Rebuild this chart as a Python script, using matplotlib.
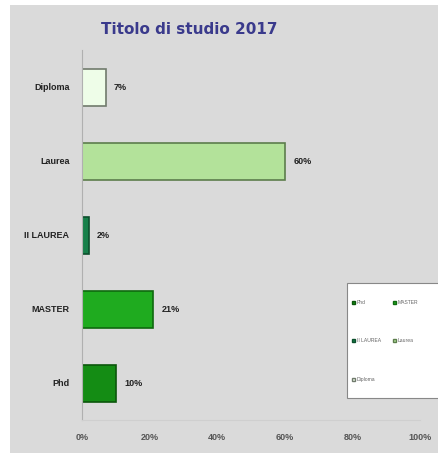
import matplotlib
matplotlib.use("Agg")
import matplotlib.pyplot as plt
from matplotlib.patches import Patch

categories = ["Phd", "MASTER", "II LAUREA", "Laurea", "Diploma"]
values = [10, 21, 2, 60, 7]
colors = ["#148c14", "#1fab1f", "#17804a", "#b3e29a", "#eefde8"]
edges = ["#0b560b", "#0f6a0f", "#0c4f2c", "#5c7d4c", "#707a6c"]
xticks = [0, 20, 40, 60, 80, 100]
xtick_labels = ["0%", "20%", "40%", "60%", "80%", "100%"]
title = "Titolo di studio 2017"

plt.rcParams['font.family'] = ['Liberation Sans', 'DejaVu Sans']

fig = plt.figure(figsize=(4.38, 4.53), dpi=100)
fig.patch.set_facecolor("white")
bg = plt.Rectangle((10/438, 0), 1, 1 - 5/453, transform=fig.transFigure,
                   facecolor="#dadada", edgecolor="none", zorder=-10)
fig.patches.append(bg)

ax = fig.add_axes([82/438, 1 - 420/453, (420 - 82)/438, 370/453])
ax.set_facecolor("#dadada")
ypos = list(range(len(categories)))
ax.barh(ypos, values, height=0.5, color=colors, edgecolor=edges, linewidth=1.2)
for y, v in zip(ypos, values):
    ax.text(v + 2.5, y, f"{v}%", va="center", ha="left", fontsize=6.5,
            fontweight="bold", color="#222222")

ax.set_xlim(0, 100)
ax.set_ylim(-0.5, len(categories) - 0.5)
ax.set_yticks(ypos)
ax.set_yticklabels(categories, fontsize=6.5, fontweight="bold", color="#222222")
ax.set_xticks(xticks)
ax.set_xticklabels(xtick_labels, fontsize=6.5, fontweight="bold", color="#555555")
ax.tick_params(axis="both", length=0, pad=9)
ax.tick_params(axis="x", pad=9)
for s in ["top", "right"]:
    ax.spines[s].set_visible(False)
ax.spines["left"].set_color("#b0b0b0")
ax.spines["left"].set_linewidth(0.8)
ax.spines["bottom"].set_color("#cfcfcf")
ax.spines["bottom"].set_linewidth(0.8)

fig.text(189/438, 1 - 29/453, title, ha="center", va="center", fontsize=11,
         fontweight="bold", color="#3a3a8c", family=["DejaVu Sans"])

# legend box
box = plt.Rectangle((347/438, 1 - 398/453), 95/438, 115/453,
                    transform=fig.transFigure, facecolor="white",
                    edgecolor="#888888", linewidth=0.8, zorder=5)
fig.patches.append(box)

order = [0, 2, 4, 1, 3]
handles = [Patch(facecolor=colors[i], edgecolor=edges[i], label=categories[i]) for i in order]
leg = fig.legend(handles=handles, ncol=2, loc="upper left",
                 bbox_to_anchor=(352/438, 1 - 300/453),
                 fontsize=3.6, frameon=False,
                 labelspacing=6.7, handlelength=0.6, handleheight=0.6,
                 handletextpad=0.4, borderpad=0.0, borderaxespad=0.0,
                 columnspacing=2.4)
leg.set_zorder(6)
for t in leg.get_texts():
    t.set_color("#666666")

fig.savefig("out.png", dpi=100, facecolor=fig.get_facecolor())
